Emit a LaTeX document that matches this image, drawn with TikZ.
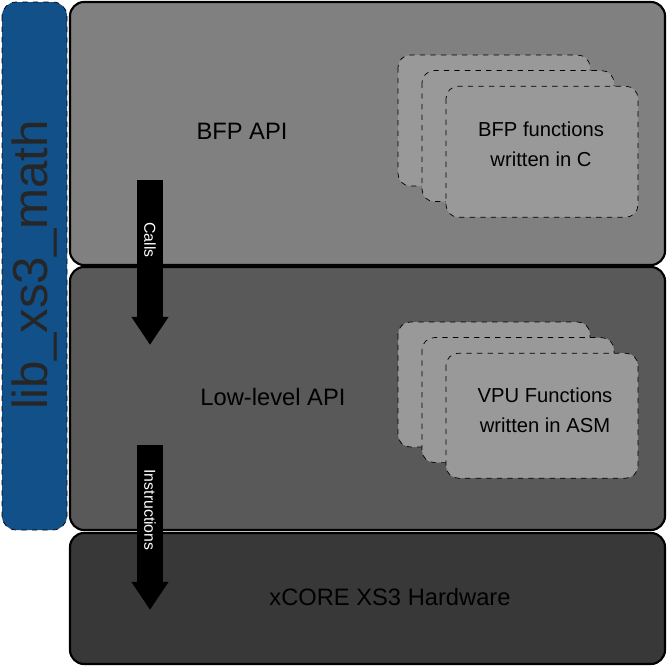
\documentclass[tikz,border=0pt]{standalone}
\usepackage{fontspec}
\setmainfont{Liberation Sans}
\usetikzlibrary{positioning,arrows.meta}
\definecolor{libBlue}{HTML}{12508A}
\tikzstyle{layer}=[draw=black, line width=1.2pt, rounded corners=8pt]
\tikzstyle{stackbox}=[draw=black, dashed, fill=black!40, rounded corners=7pt]
\tikzstyle{flow}=[line width=15pt, -{Triangle[width=20pt,length=16pt]}]
\tikzstyle{layertext}=[font=\fontsize{13.5}{16}\selectfont]
\tikzstyle{fntext}=[align=center, font=\fontsize{11.5}{17}\selectfont]

\begin{document}
\begin{tikzpicture}[x=0.02cm, y=-0.02cm]
  \useasboundingbox (0,0) rectangle (667,666);

  % 三つの層
  \draw[layer, fill=black!50] (70,2) rectangle (665,265);
  \draw[layer, fill=black!65] (70,267) rectangle (665,530);
  \draw[layer, fill=black!78] (70,533) rectangle (665,664);

  % ライブラリ名
  \draw[dashed, fill=libBlue, rounded corners=8pt] (2,2) rectangle (67,530);
  \node (lib) at (35,265) [rotate=90, font=\fontsize{28}{32}\selectfont, text=black!85]{lib\_xs3\_math};

  % 上の関数群
  \foreach \d in {0,24,48}
    \draw[stackbox] (398+\d,55+0.65*\d) rectangle (590+\d,186+0.65*\d);
  \node (bfpfn) at (541,144) [fntext]{BFP functions\\written in C};

  % 下の関数群
  \foreach \d in {0,24,48}
    \draw[stackbox] (398+\d,322+0.65*\d) rectangle (590+\d,447+0.65*\d);
  \node (vpufn) at (545,410) [fntext]{VPU Functions\\written in ASM};

  % 層の名前
  \node (bfp) at (242,131) [layertext]{BFP API};
  \node (low) at (273,397) [layertext]{Low-level API};
  \node (hw) at (390,597) [layertext]{xCORE XS3 Hardware};

  % 矢印
  \coordinate (c1) at (150,180);
  \coordinate (c2) at (150,345);
  \coordinate (i1) at (150,445);
  \coordinate (i2) at (150,610);
  \draw[flow] (c1) -- (c2);
  \draw[flow] (i1) -- (i2);
  \node (calls) at (150,240) [rotate=-90, text=white, font=\fontsize{9}{10}\selectfont]{Calls};
  \node (instr) at (150,510) [rotate=-90, text=white, font=\fontsize{9}{10}\selectfont]{Instructions};
\end{tikzpicture}
\end{document}
